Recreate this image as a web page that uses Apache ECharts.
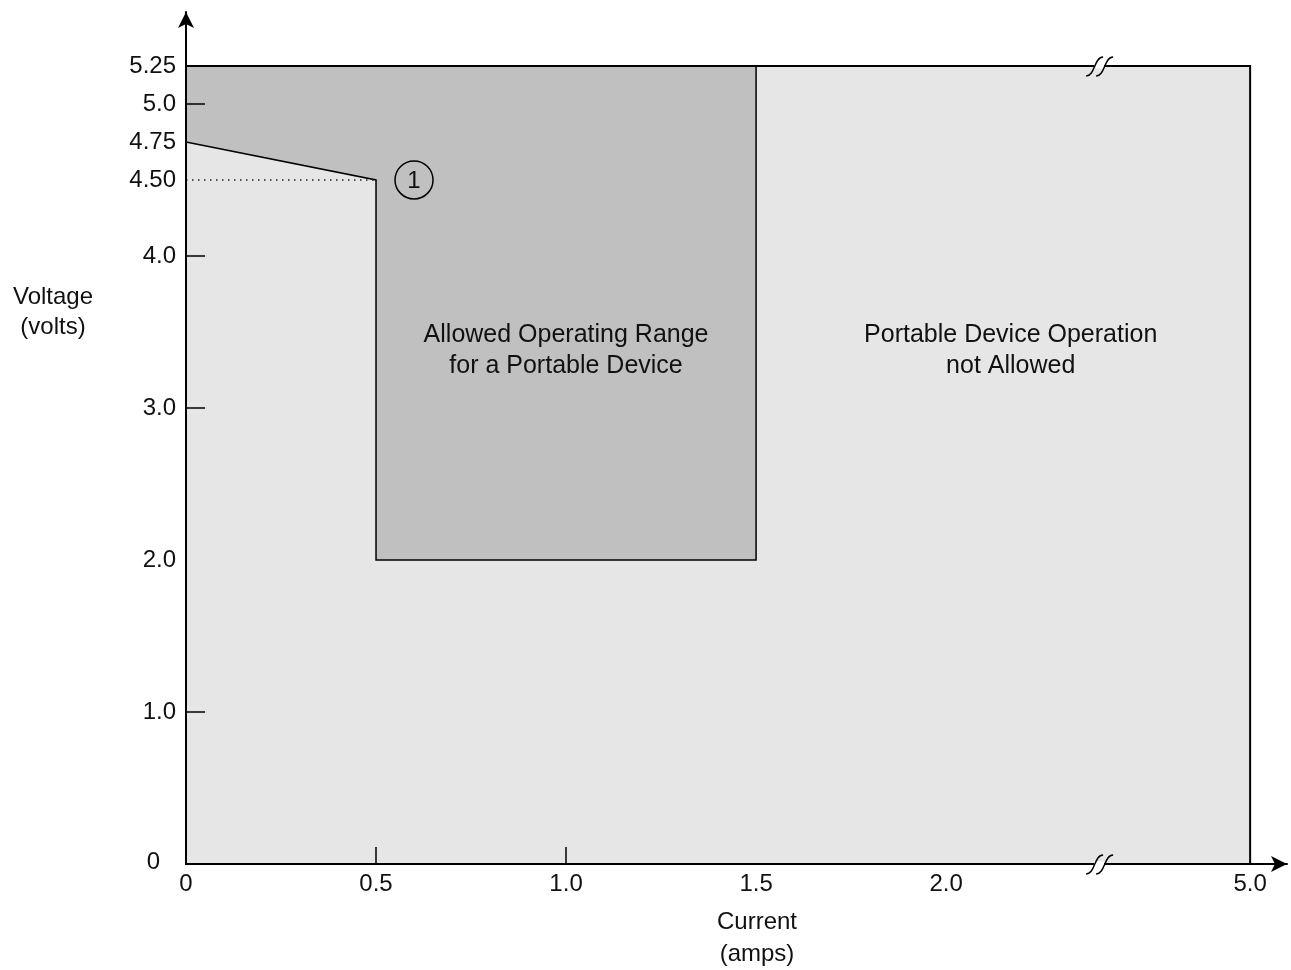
<!DOCTYPE html>
<html>
<head>
<meta charset="utf-8">
<script src="https://cdn.jsdelivr.net/npm/echarts@6/dist/echarts.min.js"></script>
<style>
html,body{margin:0;padding:0;background:#fff;}
#chart{width:1291px;height:970px;}
</style>
</head>
<body>
<div id="chart"></div>
<script>
// ---- data (real units: amps, volts) ----
const yLabelValues = [0, 1.0, 2.0, 3.0, 4.0, 4.5, 4.75, 5.0, 5.25];
const yLabelTexts  = ['0', '1.0', '2.0', '3.0', '4.0', '4.50', '4.75', '5.0', '5.25'];
const yTickValues  = [1.0, 3.0, 4.0, 5.0];
const xLabelValues = [0, 0.5, 1.0, 1.5, 2.0, 5.0];
const xLabelTexts  = ['0', '0.5', '1.0', '1.5', '2.0', '5.0'];
const xTickValues  = [0.5, 1.0];
// axis break on the current axis
const xBreakStart = 2.4;
const xBreakEnd = 4.6;
// regions
const outerRegionX = [0, 5.0, 5.0, 0];
const outerRegionY = [0, 0, 5.25, 5.25];
const allowedRegionX = [0, 0, 0.5, 0.5, 1.5, 1.5];
const allowedRegionY = [5.25, 4.75, 4.5, 2.0, 2.0, 5.25];
const dottedX = [0, 0.5];
const dottedY = [4.5, 4.5];
// annotations
const annotationTexts = ['Allowed Operating Range\nfor a Portable Device', 'Portable Device Operation\nnot Allowed'];
const annotationX = [1.0, 2.17];
const annotationY = [3.38, 3.38];
const markerText = '1';
const markerX = 0.6;
const markerY = 4.5;
const vMax = 5.25;

function brk(x) {
  if (x <= xBreakStart) return x;
  if (x >= xBreakEnd) return xBreakStart + (x - xBreakEnd);
  return xBreakStart;
}
function findLabel(vals, texts, v) {
  for (let i = 0; i < vals.length; i++) if (Math.abs(vals[i] - v) < 1e-6) return texts[i];
  return '';
}
const FONT = '"Liberation Sans", Arial, Helvetica, sans-serif';
const xLabelAxisValues = xLabelValues.map(brk);

const chart = echarts.init(document.getElementById('chart'), null, {renderer: 'canvas'});

function pts(api, xs, ys) { return xs.map((x, i) => api.coord([brk(x), ys[i]])); }

const option = {
  animation: false,
  backgroundColor: '#fff',
  grid: {left: 186, right: 4, top: 12, bottom: 106, containLabel: false, outerBoundsMode: 'none'},
  xAxis: {
    type: 'value', min: 0, max: 2.897, z: 10,
    splitLine: {show: false},
    axisLine: {show: true, symbol: ['none', 'arrow'], symbolSize: [12, 16], lineStyle: {color: '#000', width: 2}},
    axisTick: {show: true, inside: true, length: 17, customValues: xTickValues.map(brk), lineStyle: {color: '#000', width: 1.5}},
    axisLabel: {
      show: true, customValues: xLabelAxisValues, margin: 8,
      color: '#111', fontSize: 24, fontFamily: FONT,
      formatter: v => findLabel(xLabelAxisValues, xLabelTexts, v)
    }
  },
  yAxis: {
    type: 'value', min: 0, max: 5.605, z: 10,
    splitLine: {show: false},
    axisLine: {show: true, symbol: ['none', 'arrow'], symbolSize: [12, 16], lineStyle: {color: '#000', width: 2}},
    axisTick: {show: true, inside: true, length: 19, customValues: yTickValues, lineStyle: {color: '#000', width: 1.5}},
    axisLabel: {
      show: true, customValues: yLabelValues, margin: 10,
      color: '#111', fontSize: 24, fontFamily: FONT,
      formatter: v => {
        const t = findLabel(yLabelValues, yLabelTexts, v);
        return v === 0 ? '{z|' + t + '}' : t;
      },
      rich: {z: {fontSize: 24, fontFamily: FONT, color: '#111', padding: [0, 16, 4, 0]}}
    }
  },
  series: [
    {
      type: 'custom', z: 2, silent: true, clip: false,
      data: [[0, 0]],
      renderItem: function (params, api) {
        const outer = pts(api, outerRegionX, outerRegionY);
        const allowed = pts(api, allowedRegionX, allowedRegionY);
        const dotted = pts(api, dottedX, dottedY);
        return {
          type: 'group',
          children: [
            {type: 'polygon', shape: {points: outer}, style: {fill: '#e6e6e6', stroke: '#000', lineWidth: 2}},
            {type: 'polygon', shape: {points: allowed}, style: {fill: '#c0c0c0', stroke: null}},
            {type: 'polyline', shape: {points: allowed.slice(1)}, style: {fill: null, stroke: '#000', lineWidth: 1.5}},
            {type: 'polyline', shape: {points: [outer[2], outer[3]]}, style: {fill: null, stroke: '#000', lineWidth: 2}},
            {type: 'polyline', shape: {points: dotted}, style: {fill: null, stroke: '#222', lineWidth: 1.5, lineDash: [1.5, 4.5]}}
          ]
        };
      }
    },
    {
      type: 'custom', z: 3, silent: true, clip: false,
      data: annotationTexts.map((t, i) => [brk(annotationX[i]), annotationY[i], i]),
      renderItem: function (params, api) {
        const p = api.coord([api.value(0), api.value(1)]);
        return {
          type: 'text', x: p[0], y: p[1],
          style: {text: annotationTexts[api.value(2)], fill: '#111', fontSize: 25, fontFamily: FONT,
                  align: 'center', verticalAlign: 'middle', lineHeight: 31}
        };
      }
    },
    {
      type: 'custom', z: 3, silent: true, clip: false,
      data: [[brk(markerX), markerY]],
      renderItem: function (params, api) {
        const p = api.coord([api.value(0), api.value(1)]);
        return {
          type: 'group', children: [
            {type: 'circle', shape: {cx: p[0], cy: p[1], r: 19}, style: {fill: null, stroke: '#000', lineWidth: 1.5}},
            {type: 'text', x: p[0], y: p[1] + 1, style: {text: markerText, fill: '#111', fontSize: 24, fontFamily: FONT, align: 'center', verticalAlign: 'middle'}}
          ]
        };
      }
    },
    {
      // axis-break marks on bottom axis and top border
      type: 'custom', z: 30, silent: true, clip: false,
      data: [[xBreakStart, 0], [xBreakStart, vMax]],
      renderItem: function (params, api) {
        const p = api.coord([api.value(0), api.value(1)]);
        const cx = p[0] + 3, cy = p[1];
        const c1 = `M ${cx - 15} ${cy + 10} C ${cx - 6} ${cy + 10} ${cx - 7} ${cy - 9} ${cx + 2} ${cy - 9}`;
        const c2 = `M ${cx - 5} ${cy + 10} C ${cx + 4} ${cy + 10} ${cx + 3} ${cy - 9} ${cx + 12} ${cy - 9}`;
        return {
          type: 'group', children: [
            {type: 'rect', shape: {x: cx - 7, y: cy - 2.5, width: 10, height: 5}, style: {fill: '#fff'}, z2: 100},
            {type: 'path', shape: {pathData: c1}, style: {fill: null, stroke: '#000', lineWidth: 1.5}, z2: 101},
            {type: 'path', shape: {pathData: c2}, style: {fill: null, stroke: '#000', lineWidth: 1.5}, z2: 101}
          ]
        };
      }
    }
  ],
  graphic: [
    {type: 'text', x: 53, y: 312, z: 50,
     style: {text: 'Voltage\n(volts)', fill: '#111', fontSize: 24, fontFamily: FONT, align: 'center', verticalAlign: 'middle', lineHeight: 30}},
    {type: 'text', x: 757, y: 938, z: 50,
     style: {text: 'Current\n(amps)', fill: '#111', fontSize: 24, fontFamily: FONT, align: 'center', verticalAlign: 'middle', lineHeight: 32}}
  ]
};
chart.setOption(option);
</script>
</body>
</html>
